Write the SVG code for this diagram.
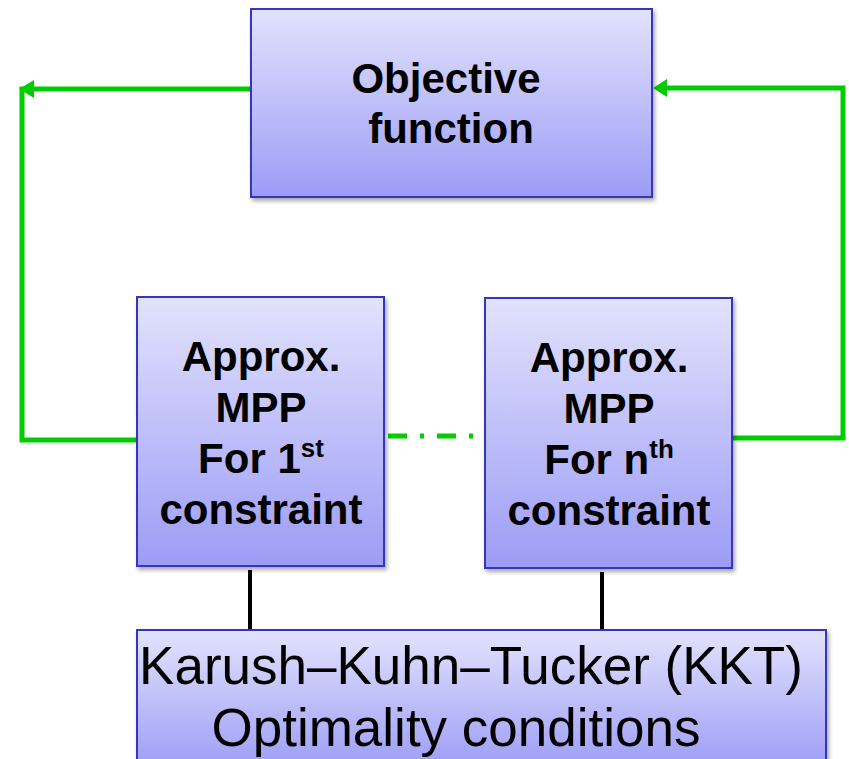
<svg xmlns="http://www.w3.org/2000/svg" width="849" height="759" viewBox="0 0 849 759">
<defs>
<linearGradient id="g" x1="0" y1="0" x2="0" y2="1">
<stop offset="0" stop-color="#e2e2fd"/>
<stop offset="1" stop-color="#9c9cf6"/>
</linearGradient>
<filter id="sh" x="-5%" y="-5%" width="115%" height="115%">
<feDropShadow dx="2" dy="3" stdDeviation="2" flood-color="#000" flood-opacity="0.35"/>
</filter>
</defs>
<style>
.box{fill:url(#g);stroke:#3434c0;stroke-width:2;filter:url(#sh)}
.b{font-family:"Liberation Sans",Arial,sans-serif;font-weight:bold;font-size:42px;fill:#000;text-anchor:middle}
.r{font-family:"Liberation Sans",Arial,sans-serif;font-size:53px;fill:#000;text-anchor:middle}
.gl{fill:none;stroke:#00cc00;stroke-width:5}
.ah{fill:#00cc00}
.bl{stroke:#000;stroke-width:4}
</style>
<g id="connectors">
<polyline class="gl" points="137,440 22,440 22,89 251,89"/>
<path class="ah" d="M19,89 L34,80 L34,98 Z"/>
<polyline class="gl" points="732,438 843,438 843,88 664,88"/>
<path class="ah" d="M653,88 L667,79 L667,97 Z"/>
<line class="gl" x1="388" y1="436" x2="478" y2="436" stroke-dasharray="19,13,4,13"/>
<line class="bl" x1="250" y1="570" x2="250" y2="630"/>
<line class="bl" x1="602" y1="572" x2="602" y2="630"/>
</g>
<g id="objective">
<rect class="box" x="251" y="9" width="401" height="188"/>
<text class="b" x="446" y="93">Objective</text>
<text class="b" x="451" y="143">function</text>
</g>
<g id="mpp1">
<rect class="box" x="137" y="297" width="247" height="269"/>
<text class="b" x="261" y="371">Approx.</text>
<text class="b" x="261" y="422">MPP</text>
<text class="b" x="261" y="473">For 1<tspan font-size="26" dy="-16">st</tspan></text>
<text class="b" x="261" y="524">constraint</text>
</g>
<g id="mppn">
<rect class="box" x="485" y="298" width="247" height="270"/>
<text class="b" x="609" y="372">Approx.</text>
<text class="b" x="609" y="423">MPP</text>
<text class="b" x="609" y="474">For n<tspan font-size="26" dy="-16">th</tspan></text>
<text class="b" x="609" y="525">constraint</text>
</g>
<g id="kkt">
<rect class="box" x="137" y="630" width="689" height="140"/>
<text class="r" x="471" y="684">Karush–Kuhn–Tucker (KKT)</text>
<text class="r" x="456" y="746">Optimality conditions</text>
</g>
</svg>
